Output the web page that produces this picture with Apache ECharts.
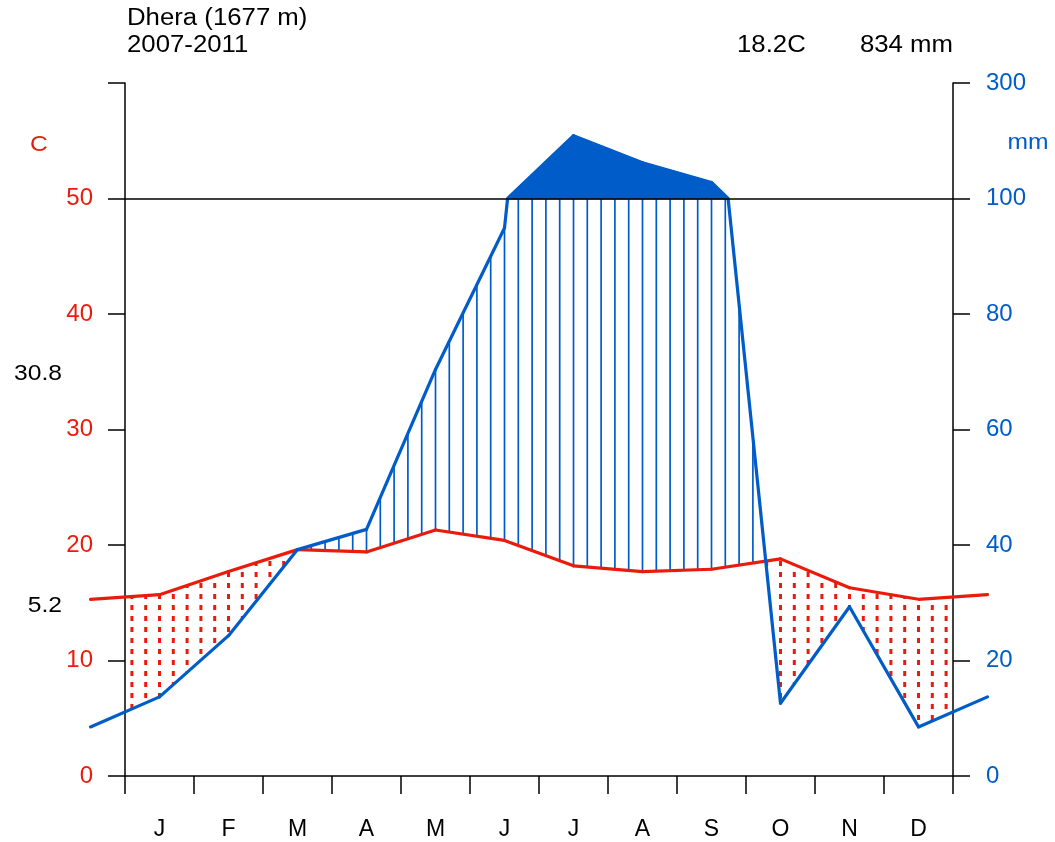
<!DOCTYPE html>
<html>
<head>
<meta charset="utf-8">
<script src="https://cdn.jsdelivr.net/npm/echarts@6/dist/echarts.min.js"></script>
<style>
  html, body { margin: 0; padding: 0; background: #fff; }
  #chart { width: 1055px; height: 842px; }
</style>
</head>
<body>
<div id="chart"></div>
<script>
// Climate diagram (Walter-Lieth style) for Dhera
const months = ['J', 'F', 'M', 'A', 'M', 'J', 'J', 'A', 'S', 'O', 'N', 'D'];
const temperature = [15.7, 17.7, 19.6, 19.4, 21.3, 20.4, 18.2, 17.7, 17.9, 18.8, 16.3, 15.3];
const precipitation = [13.7, 24.3, 39.2, 42.7, 70.4, 94.9, 208.7, 162, 127.7, 12.6, 29.3, 8.5];
const tempTickLabels = ['0', '10', '20', '30', '40', '50', ''];
const precipTickLabels = ['0', '20', '40', '60', '80', '100', '300'];
const stationName = 'Dhera (1677 m)';
const yearSpan = '2007-2011';
const maxWarmestMonth = '30.8';
const minColdestMonth = '5.2';

const RED = '#eb1b0b';
const BLUE = '#005cc8';
const FONT = '"Liberation Sans", Arial, sans-serif';
const CURVE_WIDTH = 3.2;

// precipitation in mm -> plot units (20 mm = 10 C up to 100 mm, then 200 mm = 10 C)
function toPlot(mm) { return mm <= 100 ? mm / 2 : 50 + (mm - 100) / 20; }
function wrap(arr, i) { return arr[(i + 12) % 12]; }
// linear value between month centres (centres sit at i + 0.5)
function between(arr, x) {
  const f = x - 0.5;
  const i0 = Math.floor(f);
  const w = f - i0;
  const a = wrap(arr, i0), b = wrap(arr, i0 + 1);
  return a + (b - a) * w;
}

const meanTemp = temperature.reduce((s, v) => s + v, 0) / temperature.length;
const totalPrecip = precipitation.reduce((s, v) => s + v, 0);

// hatching between the two curves, five strokes per month
function renderHatch(params, api) {
  const i = params.dataIndex;
  const children = [];
  for (let k = 0; k < 5; k++) {
    const x = i + 0.1 + 0.2 * k;
    const t = between(temperature, x);
    const p = toPlot(between(precipitation, x));
    if (p > t) {
      const a = api.coord([x, t]);
      const b = api.coord([x, Math.min(p, 50)]);
      children.push({
        type: 'line',
        shape: { x1: a[0], y1: a[1], x2: b[0], y2: b[1] },
        style: { stroke: BLUE, lineWidth: 1.7 }
      });
    } else {
      const a = api.coord([x, t]);
      const b = api.coord([x, p]);
      children.push({
        type: 'line',
        shape: { x1: a[0], y1: a[1], x2: b[0], y2: b[1] },
        style: { stroke: RED, lineWidth: 3, lineDash: [5, 6], lineDashOffset: a[1] % 11 }
      });
    }
  }
  return { type: 'group', children };
}

// monthly temperature curve, continued half a month past each end
function renderTemp(params, api) {
  const i = params.dataIndex;
  const x = api.value(0), t = api.value(1);
  const pts = [[x - 1, wrap(temperature, i - 1)], [x, t]];
  if (i === 11) pts.push([x + 1, wrap(temperature, i + 1)]);
  return {
    type: 'polyline',
    shape: { points: pts.map(pt => api.coord(pt)) },
    style: { stroke: RED, lineWidth: CURVE_WIDTH, fill: null, lineCap: 'round', lineJoin: 'round' }
  };
}

// precipitation curve, solid fill above 100 mm
function renderPrecip(params, api) {
  const i = params.dataIndex;
  const x = api.value(0), p = api.value(1);
  const segs = [[x - 1, wrap(precipitation, i - 1), x, p]];
  if (i === 11) segs.push([x, p, x + 1, wrap(precipitation, i + 1)]);
  const children = [];
  segs.forEach(([x0, m0, x1, m1]) => {
    const pts = [[x0, m0]];
    if ((m0 - 100) * (m1 - 100) < 0) pts.push([x0 + (x1 - x0) * (100 - m0) / (m1 - m0), 100]);
    pts.push([x1, m1]);
    const px = pts.map(([xx, mm]) => api.coord([xx, toPlot(mm)]));
    for (let k = 0; k < pts.length - 1; k++) {
      if (pts[k][1] >= 100 && pts[k + 1][1] >= 100) {
        const b0 = api.coord([pts[k][0], 50]);
        const b1 = api.coord([pts[k + 1][0], 50]);
        children.push({
          type: 'polygon', z2: 0,
          shape: { points: [px[k], px[k + 1], b1, b0] },
          style: { fill: BLUE, stroke: BLUE, lineWidth: 2, lineJoin: 'round' }
        });
      }
    }
    children.push({
      type: 'polyline', z2: 1,
      shape: { points: px },
      style: { stroke: BLUE, lineWidth: CURVE_WIDTH, fill: null, lineCap: 'round', lineJoin: 'round' }
    });
  });
  return { type: 'group', children };
}

function label(text, x, y, color, align, size) {
  return {
    type: 'text', x, y, scaleX: 1.12, silent: true,
    style: { text, font: (size || 22) + 'px ' + FONT, fill: color, align, verticalAlign: 'middle' }
  };
}

const chart = echarts.init(document.getElementById('chart'), null, { renderer: 'canvas' });
chart.setOption({
  animation: false,
  backgroundColor: '#fff',
  grid: { left: 125, right: 102, top: 83, bottom: 66, containLabel: false },
  xAxis: [
    {
      type: 'category', data: months, boundaryGap: true, position: 'bottom',
      axisLine: { lineStyle: { color: '#000', width: 1.5 } },
      axisTick: { show: true, interval: 0, length: 18, lineStyle: { color: '#000', width: 1.5 } },
      axisLabel: { interval: 0, color: '#000', fontSize: 23, fontFamily: FONT, margin: 42 },
      splitLine: { show: false }
    },
    { type: 'value', min: 0, max: 12, show: false }
  ],
  yAxis: [
    {
      type: 'value', min: 0, max: 60, interval: 10, position: 'left',
      axisLine: { show: true, lineStyle: { color: '#000', width: 1.5 } },
      axisTick: { show: true, length: 17, lineStyle: { color: '#000', width: 1.5 } },
      axisLabel: {
        color: RED, fontSize: 24, fontFamily: FONT, margin: 32,
        formatter: v => tempTickLabels[Math.round(v / 10)]
      },
      splitLine: { show: false }
    },
    {
      type: 'value', min: 0, max: 60, interval: 10, position: 'right',
      axisLine: { show: true, lineStyle: { color: '#000', width: 1.5 } },
      axisTick: { show: true, length: 17, lineStyle: { color: '#000', width: 1.5 } },
      axisLabel: {
        color: BLUE, fontSize: 24, fontFamily: FONT, margin: 33,
        formatter: v => precipTickLabels[Math.round(v / 10)]
      },
      splitLine: { show: false }
    }
  ],
  series: [
    {
      type: 'custom', name: 'hatch', xAxisIndex: 1, yAxisIndex: 0, z: 2,
      data: months.map((m, i) => [i + 0.5]),
      renderItem: renderHatch, silent: true,
      markLine: {
        silent: true, symbol: 'none', label: { show: false },
        lineStyle: { color: '#000', width: 1.5, type: 'solid' },
        data: [{ yAxis: 50 }]
      }
    },
    {
      type: 'custom', name: 'temperature', xAxisIndex: 1, yAxisIndex: 0, z: 3,
      data: temperature.map((t, i) => [i + 0.5, t]),
      renderItem: renderTemp, clip: false, silent: true
    },
    {
      type: 'custom', name: 'precipitation', xAxisIndex: 1, yAxisIndex: 0, z: 4,
      data: precipitation.map((p, i) => [i + 0.5, p]),
      renderItem: renderPrecip, clip: false, silent: true
    }
  ],
  graphic: [
    label(stationName, 127, 18.5, '#000', 'left', 23),
    label(yearSpan, 127, 46, '#000', 'left', 23),
    label(meanTemp.toFixed(1) + 'C', 737, 46, '#000', 'left', 23),
    label(Math.round(totalPrecip) + ' mm', 953, 46, '#000', 'right', 23),
    label('C', 39, 145, RED, 'center'),
    label('mm', 1028, 143, BLUE, 'center'),
    label(maxWarmestMonth, 62, 374, '#000', 'right'),
    label(minColdestMonth, 62, 606, '#000', 'right')
  ]
});
</script>
</body>
</html>
